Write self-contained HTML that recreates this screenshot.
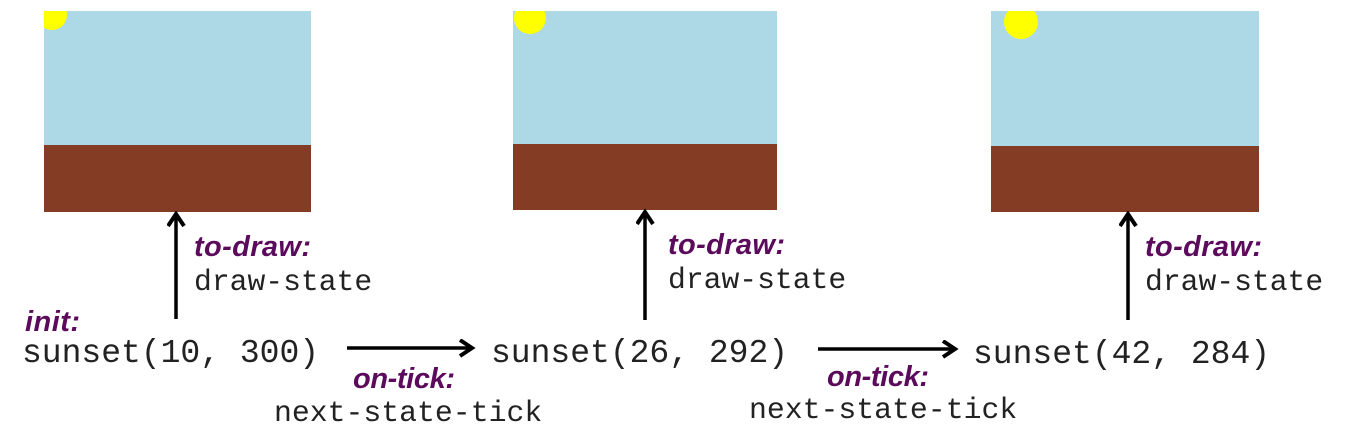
<!DOCTYPE html>
<html><head><meta charset="utf-8"><style>
html,body{margin:0;padding:0;background:#fff;}
svg{display:block;}
.m{font-family:"Liberation Mono",monospace;fill:#222;}
.p{font-family:"Liberation Sans",sans-serif;font-style:italic;font-weight:bold;fill:#5c0a5c;font-size:29px;}
</style></head><body>
<svg width="1346" height="436" viewBox="0 0 1346 436">
<defs>
<clipPath id="c1"><rect x="44" y="11" width="267" height="201"/></clipPath>
<clipPath id="c2"><rect x="513" y="11" width="264" height="199"/></clipPath>
<clipPath id="c3"><rect x="991" y="11" width="268" height="201"/></clipPath>
<marker id="ah" markerWidth="20" markerHeight="20" refX="14" refY="9" orient="auto" markerUnits="userSpaceOnUse">
<path d="M2,1 L14,9 L2,17" fill="none" stroke="#000" stroke-width="4" stroke-linejoin="miter"/></marker>
</defs>
<g clip-path="url(#c1)">
<rect x="44" y="11" width="267" height="201" fill="#add8e6"/>
<rect x="44" y="145" width="267" height="67" fill="#843c24"/>
<circle cx="52" cy="15" r="15" fill="#ffff00"/>
</g>
<g clip-path="url(#c2)">
<rect x="513" y="11" width="264" height="199" fill="#add8e6"/>
<rect x="513" y="144" width="264" height="66" fill="#843c24"/>
<circle cx="530" cy="18" r="16" fill="#ffff00"/>
</g>
<g clip-path="url(#c3)">
<rect x="991" y="11" width="268" height="201" fill="#add8e6"/>
<rect x="991" y="146" width="268" height="66" fill="#843c24"/>
<circle cx="1021" cy="22" r="17" fill="#ffff00"/>
</g>
<g stroke="#000" stroke-width="3.5" marker-end="url(#ah)">
<line x1="176" y1="319" x2="176" y2="214"/>
<line x1="645" y1="320" x2="645" y2="212"/>
<line x1="1128" y1="320" x2="1128" y2="214"/>
<line x1="347" y1="348" x2="472" y2="348"/>
<line x1="818" y1="349" x2="955" y2="349"/>
</g>
<text class="p" x="194" y="256" textLength="117">to-draw:</text>
<text class="p" x="668" y="254" textLength="117">to-draw:</text>
<text class="p" x="1145" y="256" textLength="117">to-draw:</text>
<text class="m" x="194" y="290" font-size="29.7">draw-state</text>
<text class="m" x="668" y="288" font-size="29.7">draw-state</text>
<text class="m" x="1145" y="290" font-size="29.7">draw-state</text>
<text class="p" x="25" y="331" textLength="55">init:</text>
<text class="p" x="353" y="388" textLength="102">on-tick:</text>
<text class="p" x="827" y="386" textLength="102">on-tick:</text>
<text class="m" x="22" y="362" font-size="33">sunset(10, 300)</text>
<text class="m" x="491" y="362" font-size="33">sunset(26, 292)</text>
<text class="m" x="973" y="363" font-size="33">sunset(42, 284)</text>
<text class="m" x="274" y="421" font-size="29.8">next-state-tick</text>
<text class="m" x="749" y="418" font-size="29.8">next-state-tick</text>
</svg>
</body></html>
